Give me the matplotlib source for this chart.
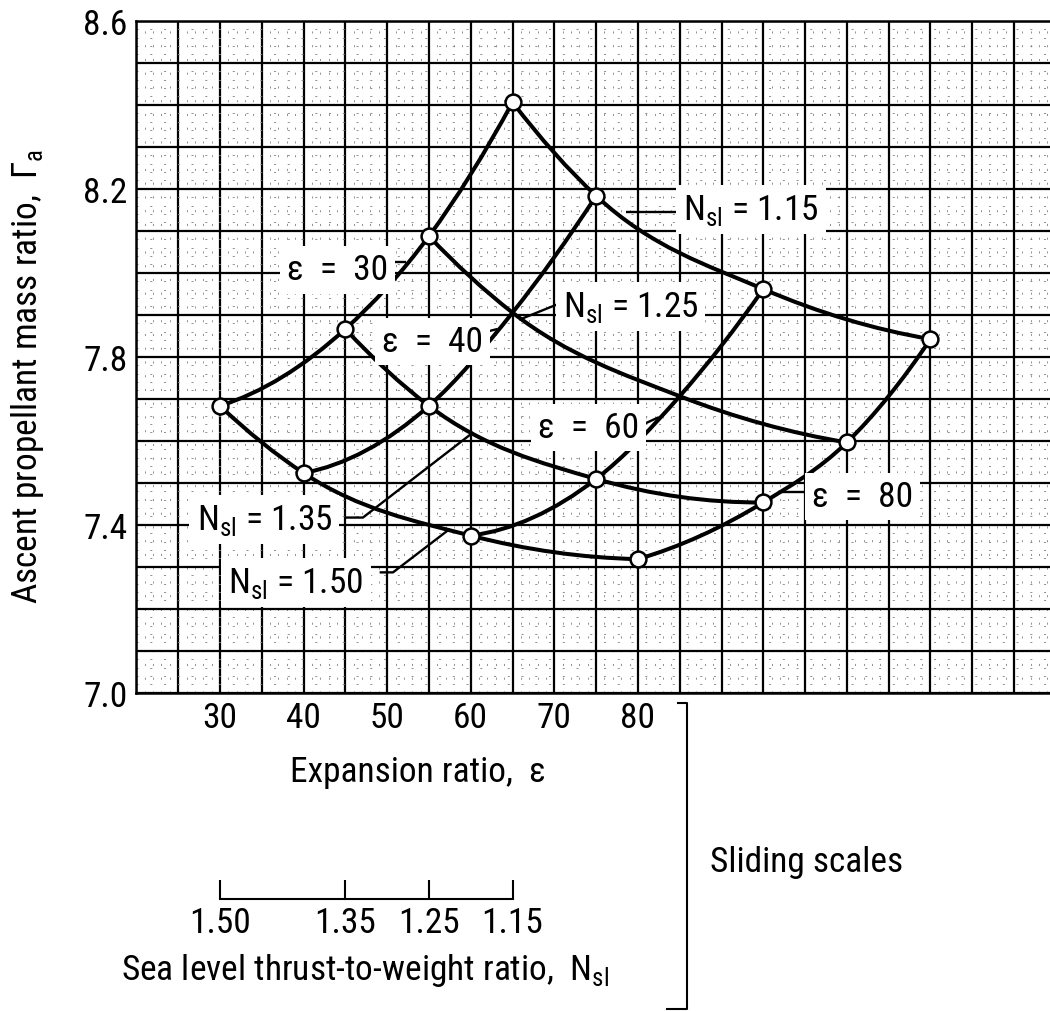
"""Carpet plot: ascent propellant mass ratio vs expansion ratio / sea-level T/W."""
import numpy as np
import matplotlib
matplotlib.use("Agg")
import matplotlib.pyplot as plt
import matplotlib.font_manager as fm
from matplotlib.path import Path
from matplotlib.patches import PathPatch
from matplotlib.lines import Line2D
from matplotlib.ticker import FixedLocator, FuncFormatter

# ---------------------------------------------------------------------------
# Data.
# ---------------------------------------------------------------------------
EPS = [30, 40, 60, 80]                  # expansion ratio, one curve each
NSL = [1.50, 1.35, 1.25, 1.15]          # sea-level thrust-to-weight ratio
NSL_SHIFT = [0, 15, 25, 35]             # sliding-scale offset of each N_sl (epsilon units)

GAMMA_EPS30 = [7.683, 7.866, 8.087, 8.406]
GAMMA_EPS40 = [7.523, 7.683, 7.905, 8.183]
GAMMA_EPS60 = [7.374, 7.509, 7.706, 7.961]
GAMMA_EPS80 = [7.318, 7.453, 7.596, 7.842]
GAMMA = [GAMMA_EPS30, GAMMA_EPS40, GAMMA_EPS60, GAMMA_EPS80]

# grid crossings drawn without a circle (eps, N_sl)
NO_CIRCLE = [(40, 1.25), (60, 1.25)]

EPS_TICKS = [30, 40, 50, 60, 70, 80]
GAMMA_TICKS = [7.0, 7.4, 7.8, 8.2, 8.6]

SUB = r"$_{\mathregular{sl}}$"

# (text, x_left, y_baseline, leader line points) in data units
LABELS = [
    ("\u03b5  =  30", 38.0, 7.984, [(49.8, 8.025), (52.2, 8.025)]),
    ("N" + SUB + " = 1.15", 85.4, 8.128, [(78.6, 8.144), (85.2, 8.144)]),
    ("N" + SUB + " = 1.25", 71.0, 7.897, [(65.8, 7.888), (70.4, 7.925)]),
    ("\u03b5  =  40", 49.4, 7.814, [(60.6, 7.853), (63.2, 7.866)]),
    ("\u03b5  =  60", 68.0, 7.609, [(80.2, 7.635), (82.5, 7.656)]),
    ("\u03b5  =  80", 100.8, 7.4445, [(100.4, 7.478), (96.7, 7.478)]),
    ("N" + SUB + " = 1.35", 27.2, 7.390, [(44.9, 7.417), (47.1, 7.417), (60.3, 7.62)]),
    ("N" + SUB + " = 1.50", 31.0, 7.240, [(49.1, 7.2865), (50.7, 7.2865), (57.5, 7.39)]),
]

W, H = 1050, 1012


def pick_font():
    """Prefer a narrow sans (the original lettering is condensed)."""
    entries = fm.fontManager.ttflist
    names = {f.name for f in entries}
    for n in ["Liberation Sans Narrow", "Roboto Condensed", "Open Sans Condensed",
              "Noto Sans Condensed", "DejaVu Sans Condensed", "Arial Narrow"]:
        if n in names:
            return n, "normal", 25.5
    for f in entries:
        if f.name == "DejaVu Sans" and "condensed" in str(f.stretch):
            return "DejaVu Sans", "condensed", 24
    return "Liberation Sans", "normal", 21


FAMILY, STRETCH, FS = pick_font()
plt.rcParams.update({"font.family": [FAMILY, "DejaVu Sans"], "font.stretch": STRETCH,
                     "font.size": FS, "text.color": "black"})


def smooth_path(xs, ys):
    """Cubic Hermite curve through the points, as Bezier segments."""
    xs, ys = np.asarray(xs, float), np.asarray(ys, float)
    h = np.diff(xs)
    d = np.diff(ys) / h
    m = np.empty_like(xs)
    m[1:-1] = (d[:-1] * h[1:] + d[1:] * h[:-1]) / (h[:-1] + h[1:])
    m[0] = 2 * d[0] - m[1]
    m[-1] = 2 * d[-1] - m[-2]
    verts, codes = [(xs[0], ys[0])], [Path.MOVETO]
    for i in range(len(xs) - 1):
        verts += [(xs[i] + h[i] / 3, ys[i] + m[i] * h[i] / 3),
                  (xs[i + 1] - h[i] / 3, ys[i + 1] - m[i + 1] * h[i] / 3),
                  (xs[i + 1], ys[i + 1])]
        codes += [Path.CURVE4] * 3
    return Path(verts, codes)


def draw_curve(ax, xs, ys):
    ax.add_patch(PathPatch(smooth_path(xs, ys), facecolor="none", edgecolor="black",
                           lw=2.9, capstyle="round", joinstyle="round", zorder=3))


fig = plt.figure(figsize=(W / 100, H / 100), dpi=100)
ax_left, ax_bottom = 136.4 / W, 1 - 693.7 / H
ax_w, ax_h = 1 - ax_left, 672 / H
ax = fig.add_axes([ax_left, ax_bottom, ax_w, ax_h])
ax.set_xlim(20, 129.3)
ax.set_ylim(7.0, 8.6)

# heavy graph-paper grid plus a faint broken sub-grid
ax.xaxis.set_major_locator(FixedLocator(np.arange(20, 130, 5)))
ax.yaxis.set_major_locator(FixedLocator(np.round(np.arange(7.0, 8.61, 0.1), 2)))
ax.xaxis.set_minor_locator(FixedLocator(np.arange(20, 130, 1)))
ax.yaxis.set_minor_locator(FixedLocator(np.round(np.arange(7.0, 8.6, 0.02), 2)))
ax.grid(which="major", color="black", lw=1.6)
ax.grid(which="minor", color="0.5", lw=0.6, linestyle=(0, (2.5, 14)))
ax.set_axisbelow(True)
ax.xaxis.set_major_formatter(FuncFormatter(
    lambda v, _: f"{v:.0f}" if any(abs(v - t) < 1e-6 for t in EPS_TICKS) else ""))
ax.yaxis.set_major_formatter(FuncFormatter(
    lambda v, _: f"{v:.1f}" if any(abs(v - t) < 1e-6 for t in GAMMA_TICKS) else ""))
ax.tick_params(which="both", length=0)
ax.tick_params(axis="x", pad=6)
ax.tick_params(axis="y", pad=6.5)
for sp in ["left", "bottom", "top"]:
    ax.spines[sp].set_linewidth(1.8)
ax.spines["right"].set_visible(False)

# carpet: constant-epsilon curves and constant-N_sl curves
for eps, gam in zip(EPS, GAMMA):
    draw_curve(ax, [eps + s for s in NSL_SHIFT], gam)
for j, s in enumerate(NSL_SHIFT):
    draw_curve(ax, [eps + s for eps in EPS], [g[j] for g in GAMMA])

for eps, gam in zip(EPS, GAMMA):
    for n, s, g in zip(NSL, NSL_SHIFT, gam):
        if (eps, n) in NO_CIRCLE:
            continue
        ax.plot(eps + s, g, "o", ms=11.4, mfc="white", mec="black", mew=1.8, zorder=4)

for text, x, y, leader in LABELS:
    lx, ly = zip(*leader)
    ax.plot(lx, ly, color="black", lw=1.7, zorder=3.5, solid_capstyle="butt")
    ax.text(x, y, text, ha="left", va="baseline", zorder=5,
            bbox=dict(facecolor="white", edgecolor="none", pad=5))

ax.set_xlabel("Expansion ratio,  \u03b5", va="baseline")
ax.xaxis.set_label_coords(0.3082, -0.131)
ax.set_ylabel("Ascent propellant mass ratio,  \u0393$_{\\mathregular{a}}$", va="baseline")
ax.yaxis.set_label_coords(-0.1088, 0.472)

# sliding N_sl scale under the epsilon axis
ax_n = fig.add_axes([ax_left, 1 - 900 / H, ax_w, 0.02])
ax_n.set_xlim(ax.get_xlim())
ax_n.patch.set_visible(False)
for sp in ["left", "right", "top"]:
    ax_n.spines[sp].set_visible(False)
ax_n.spines["bottom"].set_linewidth(1.5)
ax_n.spines["bottom"].set_bounds(EPS[0] + NSL_SHIFT[0], EPS[0] + NSL_SHIFT[-1])
ax_n.set_yticks([])
ax_n.set_xticks([EPS[0] + s for s in NSL_SHIFT])
ax_n.set_xticklabels([f"{n:.2f}" for n in NSL])
ax_n.tick_params(axis="x", direction="in", length=14, width=1.5, pad=5)
ax_n.set_xlabel("Sea level thrust-to-weight ratio,  N" + SUB, va="baseline")
ax_n.xaxis.set_label_coords((365 - 136.4) / (W - 136.4), -80 / (0.02 * H))

# bracket tying both scales together
bx = [678 / W, 687 / W, 687 / W, 667 / W]
by = [1 - 704 / H, 1 - 704 / H, 1 - 1010 / H, 1 - 1010 / H]
fig.add_artist(Line2D(bx, by, transform=fig.transFigure, color="black", lw=1.5))
fig.text(710 / W, 1 - 872 / H, "Sliding scales", ha="left", va="baseline")

fig.savefig("out.png", dpi=100, facecolor="white")
